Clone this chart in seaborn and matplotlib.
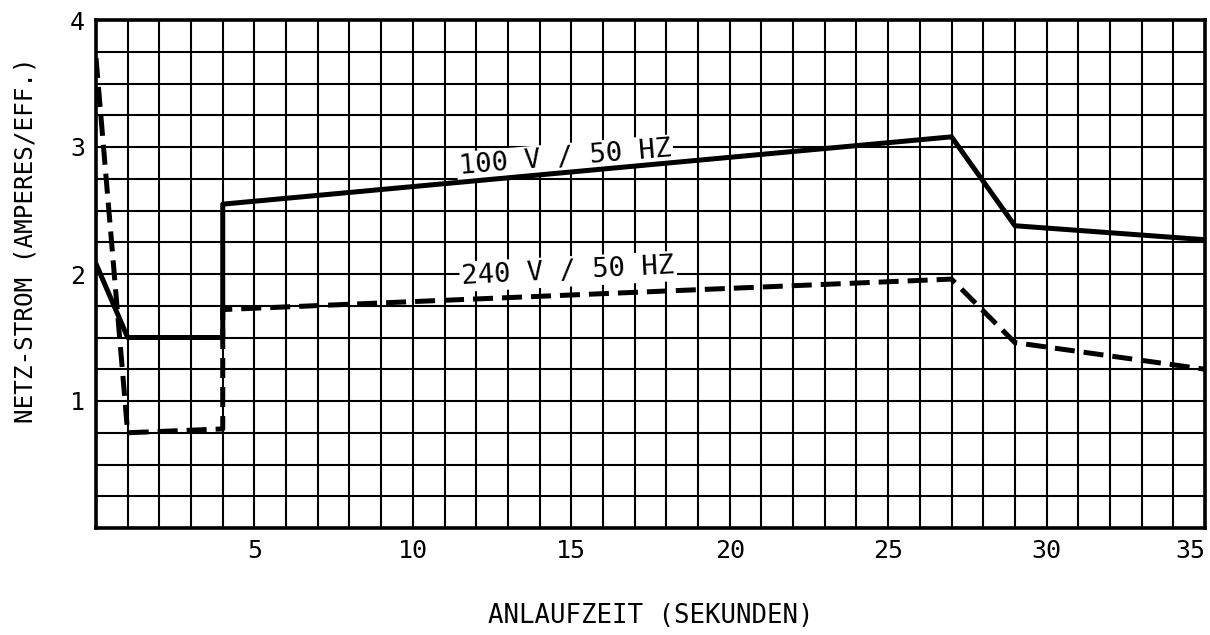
import matplotlib
matplotlib.use('Agg')
import matplotlib.pyplot as plt
import seaborn as sns
import pandas as pd
from matplotlib.ticker import MultipleLocator

# Anlaufstrom ueber Zeit
t_100 = [0, 1, 4, 4, 27, 29, 35]
a_100 = [2.08, 1.50, 1.50, 2.55, 3.08, 2.38, 2.27]
t_240 = [0, 1, 4, 4, 27, 29, 35]
a_240 = [3.70, 0.75, 0.78, 1.72, 1.96, 1.46, 1.25]
series = ['100 V / 50 HZ', '240 V / 50 HZ']

x_ticks = [5, 10, 15, 20, 25, 30, 35]
y_ticks = [1, 2, 3, 4]

df = pd.concat([
    pd.DataFrame({'t': t_100, 'a': a_100, 'serie': series[0]}),
    pd.DataFrame({'t': t_240, 'a': a_240, 'serie': series[1]}),
], ignore_index=True)

sns.set_style('white')
plt.rcParams['font.family'] = ['DejaVu Sans Mono', 'DejaVu Sans']
plt.rcParams['text.color'] = 'black'
plt.rcParams['axes.labelcolor'] = 'black'

fig = plt.figure(figsize=(12.1, 6.35), dpi=100)
ax = fig.add_axes([96 / 1210, 107 / 635, 1109 / 1210, 508 / 635])

sns.lineplot(data=df, x='t', y='a', style='serie',
             dashes={series[0]: '', series[1]: (4, 1.8)},
             color='black', lw=3.6, estimator=None, sort=False,
             legend=False, ax=ax, zorder=5)

ax.set_xlim(0, 35)
ax.set_ylim(0, 4)
ax.set_xticks(x_ticks, labels=[str(v) for v in x_ticks])
ax.set_yticks(y_ticks, labels=[str(v) for v in y_ticks])
ax.xaxis.set_minor_locator(MultipleLocator(1))
ax.yaxis.set_minor_locator(MultipleLocator(0.25))
ax.grid(which='both', color='black', lw=1.5)
ax.set_axisbelow(True)
ax.tick_params(which='both', length=0, labelsize=18, colors='black')
ax.tick_params(axis='x', pad=8)
ax.tick_params(axis='y', pad=8)
ax.get_xticklabels()[-1].set_horizontalalignment('right')

for s in ax.spines.values():
    s.set_color('black')
    s.set_linewidth(2.6)

ax.set_xlabel('ANLAUFZEIT (SEKUNDEN)', fontsize=18.5, color='black')
ax.xaxis.set_label_coords(0.5, -(603 - 528) / 508)
ax.set_ylabel('NETZ-STROM (AMPERES/EFF.)', fontsize=17.5, color='black')
ax.yaxis.set_label_coords(-0.053, 0.567)

box = dict(facecolor='white', edgecolor='none', pad=1.5)
ax.text(14.8, 2.91, series[0], rotation=4.8, rotation_mode='anchor',
        ha='center', va='center', fontsize=19.5, color='black', bbox=box, zorder=4)
ax.text(14.9, 2.02, series[1], rotation=2.9, rotation_mode='anchor',
        ha='center', va='center', fontsize=19.5, color='black', bbox=box, zorder=4)

fig.savefig('out.png', dpi=100)
